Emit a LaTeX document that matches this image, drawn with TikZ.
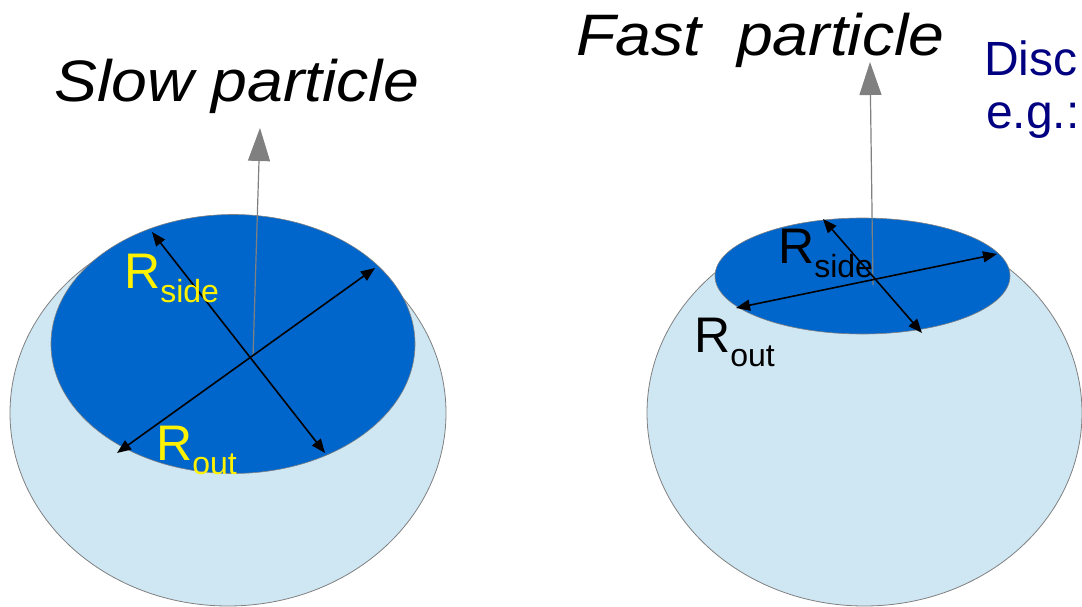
\documentclass[tikz,border=0pt]{standalone}
\usepackage{fontspec}
\setmainfont{Liberation Sans}
\usepackage{xcolor}
\usetikzlibrary{arrows.meta}
\definecolor{spherefill}{RGB}{207,230,243}
\definecolor{discfill}{RGB}{0,102,204}
\definecolor{rimgrey}{RGB}{128,128,128}
\definecolor{notenavy}{RGB}{0,0,128}
\tikzset{
  sphere/.style={fill=spherefill,draw=rimgrey,line width=0.8pt},
  disc/.style={fill=discfill,draw=rimgrey,line width=0.6pt},
  flight/.style={draw=rimgrey,line width=1.2pt,-{Triangle[length=33pt,width=22pt]}},
  radarrow/.style={draw=black,line width=1.6pt,{Triangle[length=14pt,width=11pt]}-{Triangle[length=14pt,width=11pt]}},
  title/.style={inner sep=0pt,anchor=base west,font=\fontsize{58.5}{60}\selectfont\itshape,xscale=1.1},
  rlabel/.style={inner sep=0pt,anchor=base west},
}
\newcommand{\rsub}[1]{{\fontsize{50}{51}\selectfont R}\raisebox{-14pt}{\fontsize{32}{33}\selectfont #1}}

\begin{document}
\begin{tikzpicture}[x=1pt,y=-1pt]
        \clip (0,0) rectangle (1082,607);
        % slow particle
        \draw[sphere] (228,413) ellipse [x radius=218, y radius=193];
        \draw[disc] (233,344) ellipse [x radius=182, y radius=129.5];
        \coordinate (slowc) at (253,357);
        \coordinate (slowtip) at (260,128);
        \coordinate (slowsa) at (152,232);
        \coordinate (slowsb) at (325,453);
        \coordinate (slowoa) at (117,453);
        \coordinate (slowob) at (375,268);
        \draw[flight] (slowc) -- (slowtip);
        \draw[radarrow] (slowsa) -- (slowsb);
        \draw[radarrow] (slowoa) -- (slowob);
        \node[rlabel,text=yellow] (slowside) at (124,288) {\rsub{side}};
        \node[rlabel,text=yellow] (slowout) at (156,460) {\rsub{out}};
        \node[title] (slowtitle) at (54,102) {Slow particle};
        % fast particle
        \draw[sphere] (864.5,413) ellipse [x radius=217.5, y radius=193];
        \draw[disc] (862.5,276) ellipse [x radius=147.5, y radius=58];
        \coordinate (fastc) at (873,285);
        \coordinate (fasttip) at (870,62);
        \coordinate (fastsa) at (823,219);
        \coordinate (fastsb) at (922,333);
        \coordinate (fastoa) at (736,308);
        \coordinate (fastob) at (997,254);
        \draw[flight] (fastc) -- (fasttip);
        \draw[radarrow] (fastsa) -- (fastsb);
        \draw[radarrow] (fastoa) -- (fastob);
        \node[rlabel] (fastside) at (778,263) {\rsub{side}};
        \node[rlabel] (fastout) at (694,352) {\rsub{out}};
        \node[title] (fasttitle) at (576,56) {Fast~~particle};
        \node[rlabel,text=notenavy,font=\fontsize{48}{50}\selectfont] (disc) at (984,76) {Disc};
        \node[rlabel,text=notenavy,font=\fontsize{48}{50}\selectfont] (eg) at (986,129) {e.g.:};
\end{tikzpicture}
\end{document}
